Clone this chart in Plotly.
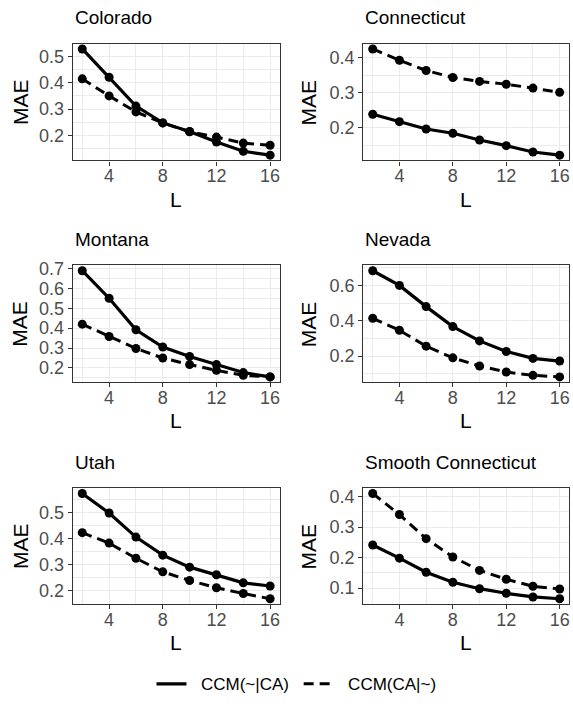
import plotly.graph_objects as go

# ---------------- data ----------------
L = [2, 4, 6, 8, 10, 12, 14, 16]
panel_names = ["Colorado", "Connecticut", "Montana", "Nevada", "Utah", "Smooth Connecticut"]

colorado_solid = [0.529, 0.421, 0.311, 0.247, 0.214, 0.174, 0.139, 0.124]
colorado_dashed = [0.415, 0.350, 0.289, 0.247, 0.213, 0.193, 0.170, 0.162]
connecticut_solid = [0.239, 0.218, 0.197, 0.185, 0.166, 0.150, 0.132, 0.123]
connecticut_dashed = [0.424, 0.392, 0.363, 0.343, 0.332, 0.324, 0.313, 0.301]
montana_solid = [0.688, 0.550, 0.392, 0.305, 0.258, 0.217, 0.177, 0.155]
montana_dashed = [0.420, 0.358, 0.298, 0.250, 0.217, 0.188, 0.163, 0.155]
nevada_solid = [0.683, 0.600, 0.480, 0.367, 0.286, 0.226, 0.187, 0.172]
nevada_dashed = [0.414, 0.346, 0.256, 0.190, 0.144, 0.110, 0.091, 0.082]
utah_solid = [0.572, 0.497, 0.405, 0.336, 0.290, 0.261, 0.230, 0.218]
utah_dashed = [0.422, 0.382, 0.324, 0.272, 0.239, 0.211, 0.189, 0.169]
smooth_solid = [0.241, 0.198, 0.152, 0.119, 0.098, 0.083, 0.071, 0.065]
smooth_dashed = [0.410, 0.341, 0.262, 0.202, 0.158, 0.129, 0.106, 0.097]

solid_series = [colorado_solid, connecticut_solid, montana_solid, nevada_solid, utah_solid, smooth_solid]
dashed_series = [colorado_dashed, connecticut_dashed, montana_dashed, nevada_dashed, utah_dashed, smooth_dashed]
y_dticks = [0.1, 0.1, 0.1, 0.2, 0.1, 0.1]
x_ticks = [4, 8, 12, 16]
series_names = ["CCM(~|CA)", "CCM(CA|~)"]

# ---------------- layout geometry (pixels) ----------------
W, H = 573, 708
col_px = [(73, 280), (364, 570)]
row_px = [(37, 155), (261, 379), (486, 603)]
ylab_x = [20, 309]

FONT = "Liberation Sans, Arial, Helvetica, sans-serif"
GRID = "#EBEBEB"
DARK = "#333333"
DASH = "10px,6px"

fig = go.Figure()
annotations = []
layout_axes = {}

for i, name in enumerate(panel_names):
    r, c = divmod(i, 2)
    x0, x1 = col_px[c]
    top, bot = row_px[r]
    xa = "x" if i == 0 else f"x{i+1}"
    ya = "y" if i == 0 else f"y{i+1}"
    xkey = "xaxis" if i == 0 else f"xaxis{i+1}"
    ykey = "yaxis" if i == 0 else f"yaxis{i+1}"

    s, d = solid_series[i], dashed_series[i]
    lo, hi = min(s + d), max(s + d)
    pad = (hi - lo) * 0.05
    xpad = (max(L) - min(L)) * 0.05

    fig.add_trace(go.Scatter(x=L, y=d, mode="lines+markers", xaxis=xa, yaxis=ya,
                             line=dict(color="black", width=3, dash=DASH),
                             marker=dict(color="black", size=9), showlegend=False,
                             name=series_names[1]))
    fig.add_trace(go.Scatter(x=L, y=s, mode="lines+markers", xaxis=xa, yaxis=ya,
                             line=dict(color="black", width=3.2),
                             marker=dict(color="black", size=9), showlegend=False,
                             name=series_names[0]))

    common = dict(showline=True, mirror=True, linecolor=DARK, linewidth=1.3,
                  ticks="outside", ticklen=4, tickwidth=1.1, tickcolor=DARK,
                  showgrid=True, gridcolor=GRID, gridwidth=1.2, zeroline=False,
                  tickfont=dict(family=FONT, size=18, color="#4D4D4D"))
    layout_axes[xkey] = dict(common, domain=[x0 / W, x1 / W], anchor=ya,
                             range=[min(L) - xpad, max(L) + xpad],
                             tickmode="array", tickvals=x_ticks, ticklabelstandoff=-5,
                             minor=dict(tickmode="array", tickvals=[2, 6, 10, 14],
                                        showgrid=True, gridcolor=GRID, gridwidth=0.6, ticks=""))
    dt = y_dticks[i]
    layout_axes[ykey] = dict(common, domain=[1 - bot / H, 1 - top / H], anchor=xa,
                             range=[lo - pad, hi + pad],
                             tickmode="linear", tick0=0, dtick=dt, tickformat=".1f",
                             minor=dict(tick0=dt / 2, dtick=dt, showgrid=True,
                                        gridcolor=GRID, gridwidth=0.6, ticks=""))

    annotations.append(dict(text=name, xref="paper", yref="paper", x=x0 / W, y=1 - (top - 26) / H,
                            xanchor="left", yanchor="middle", showarrow=False,
                            font=dict(family=FONT, size=19, color="black")))
    annotations.append(dict(text="MAE", xref="paper", yref="paper", x=ylab_x[c] / W,
                            y=1 - (top + bot) / 2 / H, textangle=-90,
                            xanchor="center", yanchor="middle", showarrow=False,
                            font=dict(family=FONT, size=21, color="black")))
    annotations.append(dict(text="L", xref="paper", yref="paper", x=(x0 + x1) / 2 / W,
                            y=1 - (bot + 39) / H, xanchor="center", yanchor="middle",
                            showarrow=False, font=dict(family=FONT, size=21, color="black")))

# legend-only traces
fig.add_trace(go.Scatter(x=[None], y=[None], mode="lines", name="\u00a0\u00a0" + series_names[0] + "\u00a0",
                         line=dict(color="black", width=3.2)))
fig.add_trace(go.Scatter(x=[None], y=[None], mode="lines", name="\u00a0\u00a0" + series_names[1],
                         line=dict(color="black", width=3, dash=DASH)))

fig.update_layout(
    width=W, height=H, margin=dict(l=0, r=0, t=0, b=0),
    paper_bgcolor="white", plot_bgcolor="white",
    font=dict(family=FONT, color="black"),
    annotations=annotations,
    showlegend=True,
    legend=dict(orientation="h", x=297 / W, xanchor="center", y=1 - 684 / H, yanchor="middle",
                font=dict(family=FONT, size=17, color="black"), itemwidth=30,
                bgcolor="rgba(0,0,0,0)"),
    **layout_axes,
)

fig.write_html("out.html", config={"displayModeBar": False},
               post_script="document.body.style.margin='0';document.body.style.padding='0';")
